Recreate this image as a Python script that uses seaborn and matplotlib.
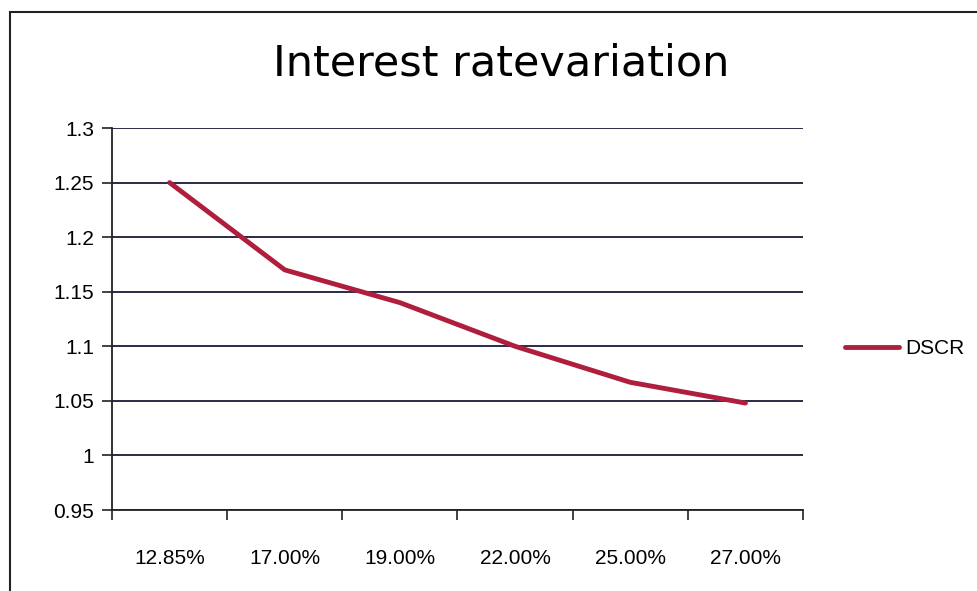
import matplotlib
matplotlib.use("Agg")
import matplotlib.pyplot as plt
import seaborn as sns
import pandas as pd
from matplotlib.patches import Rectangle

rates = ["12.85%", "17.00%", "19.00%", "22.00%", "25.00%", "27.00%"]
dscr = [1.25, 1.17, 1.14, 1.10, 1.067, 1.048]
y_ticks = [0.95, 1.0, 1.05, 1.1, 1.15, 1.2, 1.25, 1.3]
y_labels = ["0.95", "1", "1.05", "1.1", "1.15", "1.2", "1.25", "1.3"]

sns.set_style("white")
plt.rcParams['font.family'] = ['Liberation Sans Narrow', 'Liberation Sans', 'DejaVu Sans']
plt.rcParams['text.color'] = 'black'
plt.rcParams['xtick.color'] = 'black'
plt.rcParams['ytick.color'] = 'black'

df = pd.DataFrame({"pos": range(len(rates)), "DSCR": dscr, "series": "DSCR"})

fig = plt.figure(figsize=(9.78, 5.91), dpi=100)
ax = fig.add_axes([112/978, 1-510/591, (803-112)/978, (510-128)/591])

sns.lineplot(data=df, x="pos", y="DSCR", hue="series", palette=["#b01e3e"],
             linewidth=3.5, ax=ax, legend=True)

ax.set_xlim(-0.5, len(rates) - 0.5)
ax.set_ylim(0.95, 1.3)
ax.set_yticks(y_ticks)
ax.set_yticklabels(y_labels, fontsize=15)
ax.yaxis.grid(True, color="#1a1a3a", linewidth=1.3)
ax.set_axisbelow(True)

ax.set_xticks([i - 0.5 for i in range(len(rates) + 1)])
ax.set_xticklabels([])
ax.set_xticks(range(len(rates)), minor=True)
ax.set_xticklabels(rates, minor=True, fontsize=15)
ax.tick_params(axis="x", which="major", direction="out", length=7, width=1.2, color="#222222", bottom=True)
ax.tick_params(axis="x", which="minor", length=0, pad=28)
ax.tick_params(axis="y", direction="out", length=7, width=1.2, color="#222222", left=True, pad=6)

for s in ["top", "right"]:
    ax.spines[s].set_visible(False)
for s in ["left", "bottom"]:
    ax.spines[s].set_color("#222222")
    ax.spines[s].set_linewidth(1.3)

ax.set_xlabel("")
ax.set_ylabel("")

leg = ax.legend(loc="center left", bbox_to_anchor=(845/978, 1-349/591),
                bbox_transform=fig.transFigure, frameon=False, fontsize=15,
                handlelength=2.6, handletextpad=0.3, borderaxespad=0, borderpad=0)

fig.text(501/978, 1-64/591, "Interest ratevariation", ha="center", va="center",
         fontsize=31, color="black", family=['DejaVu Sans'])

fig.patches.append(Rectangle((10/978, -0.1), 2.0, 1 - 12/591 + 0.1, transform=fig.transFigure,
                             fill=False, edgecolor="#222222", linewidth=1.5, zorder=0))

fig.savefig("out.png", dpi=100, facecolor="white")
